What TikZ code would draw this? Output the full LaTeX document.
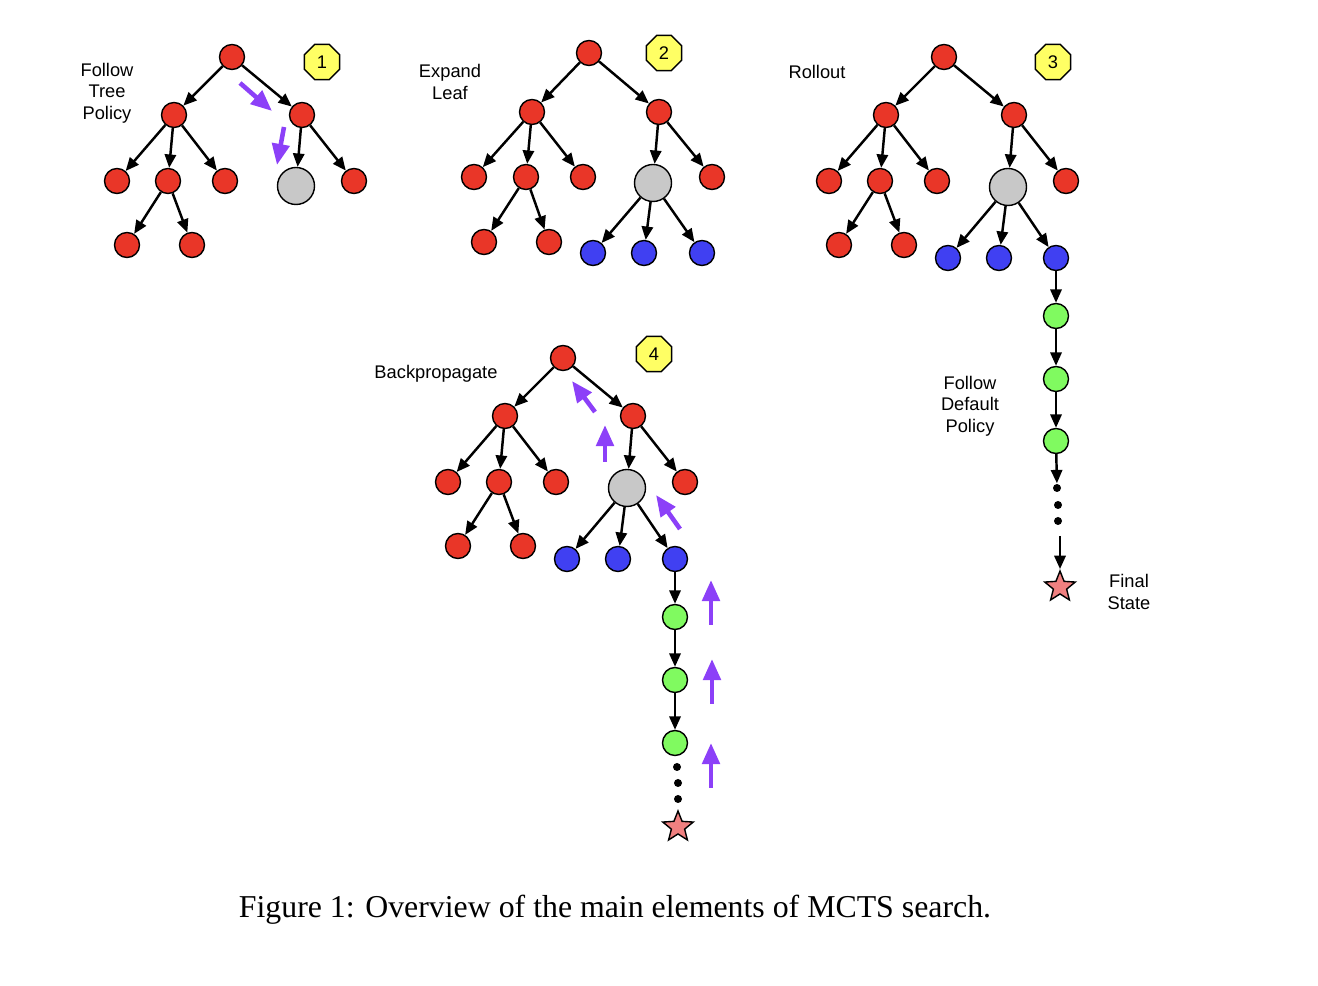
\documentclass[tikz,border=0pt]{standalone}
\usepackage{fontspec}
\setmainfont{Liberation Serif}
\newfontfamily\helv{Liberation Sans}
\usetikzlibrary{shapes.geometric,arrows.meta}
\definecolor{nodered}{RGB}{233,54,40}
\definecolor{nodegray}{RGB}{200,200,200}
\definecolor{nodeblue}{RGB}{64,64,242}
\definecolor{nodegreen}{RGB}{128,250,96}
\definecolor{numyellow}{RGB}{255,255,100}
\definecolor{starpink}{RGB}{240,128,128}
\definecolor{backpurple}{RGB}{140,64,248}
\tikzset{
    rednode/.style={circle, draw, fill=nodered, minimum size=0.25cm, inner sep=0pt, line width=0.4pt},
    graynode/.style={circle, draw, fill=nodegray, minimum size=0.37cm, inner sep=0pt, line width=0.4pt},
    bluenode/.style={circle, draw, fill=nodeblue, minimum size=0.25cm, inner sep=0pt, line width=0.4pt},
    greennode/.style={circle, draw, fill=nodegreen, minimum size=0.25cm, inner sep=0pt, line width=0.4pt},
    dotnode/.style={circle, fill=black, minimum size=0.08cm, inner sep=0pt},
    stepnum/.style={regular polygon, regular polygon sides=8, draw, fill=numyellow, minimum size=0.38cm, inner sep=0pt, line width=0.4pt, font=\helv\fontsize{5.2}{6}\selectfont},
    finalstar/.style={star, star points=5, star point ratio=2.3, draw, fill=starpink, minimum size=0.32cm, inner sep=0pt, line width=0.4pt},
    edge/.style={-{Triangle[length=3.8pt,width=3.2pt]}, line width=0.7pt},
    back/.style={-{Triangle[length=6pt,width=4.9pt]}, line width=1.3pt, color=backpurple},
    lbl/.style={font=\helv\fontsize{5.2}{6.1}\selectfont, align=center}
}
\begin{document}
\begin{tikzpicture}[x=0.01cm, y=-0.01cm]
    \useasboundingbox (0, 0) rectangle (1318, 986);

    \node[rednode] (a) at (232, 57) {};
        \node[rednode] (a1) at (174, 115) {};
        \node[rednode] (a2) at (302, 115) {};
            \node[rednode] (a11) at (117, 181) {};
            \node[rednode] (a12) at (168, 181) {};
            \node[rednode] (a13) at (225, 181) {};
                \node[rednode] (a121) at (127, 245) {};
                \node[rednode] (a122) at (192, 245) {};
            \node[graynode] (a21) at (296, 186) {};
            \node[rednode] (a22) at (354, 181) {};
    \draw[edge] (a) -- (a1);
    \draw[edge] (a) -- (a2);
    \draw[edge] (a1) -- (a11);
    \draw[edge] (a1) -- (a12);
    \draw[edge] (a1) -- (a13);
    \draw[edge] (a12) -- (a121);
    \draw[edge] (a12) -- (a122);
    \draw[edge] (a2) -- (a21);
    \draw[edge] (a2) -- (a22);
    \coordinate (ap1) at (240, 83);
    \coordinate (aq1) at (272, 111);
    \coordinate (ap2) at (284, 127);
    \coordinate (aq2) at (277, 165);
    \draw[back] (ap1) -- (aq1);
    \draw[back] (ap2) -- (aq2);
    \node[stepnum] (anum) at (322, 62) {1};
    \node[lbl] (alabel) at (107, 93) {Follow\\Tree\\Policy};

    \node[rednode] (b) at (589, 53) {};
        \node[rednode] (b1) at (532, 112) {};
        \node[rednode] (b2) at (659, 112) {};
            \node[rednode] (b11) at (474, 177) {};
            \node[rednode] (b12) at (526, 177) {};
            \node[rednode] (b13) at (583, 177) {};
                \node[rednode] (b121) at (484, 242) {};
                \node[rednode] (b122) at (549, 242) {};
            \node[graynode] (b21) at (653, 183) {};
            \node[rednode] (b22) at (712, 177) {};
                \node[bluenode] (b211) at (593, 253) {};
                \node[bluenode] (b212) at (644, 253) {};
                \node[bluenode] (b213) at (702, 253) {};
    \draw[edge] (b) -- (b1);
    \draw[edge] (b) -- (b2);
    \draw[edge] (b1) -- (b11);
    \draw[edge] (b1) -- (b12);
    \draw[edge] (b1) -- (b13);
    \draw[edge] (b12) -- (b121);
    \draw[edge] (b12) -- (b122);
    \draw[edge] (b2) -- (b21);
    \draw[edge] (b2) -- (b22);
    \draw[edge] (b21) -- (b211);
    \draw[edge] (b21) -- (b212);
    \draw[edge] (b21) -- (b213);
    \node[stepnum] (bnum) at (664, 53) {2};
    \node[lbl] (blabel) at (450, 82) {Expand\\Leaf};

    \node[rednode] (c) at (944, 57) {};
        \node[rednode] (c1) at (886, 115) {};
        \node[rednode] (c2) at (1014, 115) {};
            \node[rednode] (c11) at (829, 181) {};
            \node[rednode] (c12) at (880, 181) {};
            \node[rednode] (c13) at (937, 181) {};
                \node[rednode] (c121) at (839, 245) {};
                \node[rednode] (c122) at (904, 245) {};
            \node[graynode] (c21) at (1008, 187) {};
            \node[rednode] (c22) at (1066, 181) {};
                \node[bluenode] (c211) at (948, 258) {};
                \node[bluenode] (c212) at (999, 258) {};
                \node[bluenode] (c213) at (1056, 258) {};
                    \node[greennode] (c3) at (1056, 316) {};
                    \node[greennode] (c4) at (1056, 379) {};
                    \node[greennode] (c5) at (1056, 441) {};
                    \node[dotnode] (c6) at (1057, 488) {};
                    \node[dotnode] (c7) at (1058, 505) {};
                    \node[dotnode] (c8) at (1058, 521) {};
                    \coordinate (cs) at (1060, 536);
                    \node[finalstar] (cstar) at (1060, 587) {};
    \draw[edge] (c) -- (c1);
    \draw[edge] (c) -- (c2);
    \draw[edge] (c1) -- (c11);
    \draw[edge] (c1) -- (c12);
    \draw[edge] (c1) -- (c13);
    \draw[edge] (c12) -- (c121);
    \draw[edge] (c12) -- (c122);
    \draw[edge] (c2) -- (c21);
    \draw[edge] (c2) -- (c22);
    \draw[edge] (c21) -- (c211);
    \draw[edge] (c21) -- (c212);
    \draw[edge] (c21) -- (c213);
    \draw[edge] (c213) -- (c3);
    \draw[edge] (c3) -- (c4);
    \draw[edge] (c4) -- (c5);
    \draw[edge] (c5) -- (c6);
    \draw[edge] (cs) -- (cstar);
    \node[stepnum] (cnum) at (1053, 62) {3};
    \node[lbl] (clabel) at (817, 72) {Rollout};
    \node[lbl] (cpolicy) at (970, 406) {Follow\\Default\\Policy};
    \node[lbl] (cfinal) at (1129, 592) {Final\\State};

    \node[rednode] (d) at (563, 358) {};
        \node[rednode] (d1) at (505, 416) {};
        \node[rednode] (d2) at (633, 416) {};
            \node[rednode] (d11) at (448, 482) {};
            \node[rednode] (d12) at (499, 482) {};
            \node[rednode] (d13) at (556, 482) {};
                \node[rednode] (d121) at (458, 546) {};
                \node[rednode] (d122) at (523, 546) {};
            \node[graynode] (d21) at (627, 488) {};
            \node[rednode] (d22) at (685, 482) {};
                \node[bluenode] (d211) at (567, 559) {};
                \node[bluenode] (d212) at (618, 559) {};
                \node[bluenode] (d213) at (675, 559) {};
                    \node[greennode] (d3) at (675, 617) {};
                    \node[greennode] (d4) at (675, 680) {};
                    \node[greennode] (d5) at (675, 743) {};
                    \node[dotnode] (d6) at (677, 767) {};
                    \node[dotnode] (d7) at (678, 783) {};
                    \node[dotnode] (d8) at (678, 799) {};
                    \node[finalstar] (dstar) at (678, 827) {};
    \draw[edge] (d) -- (d1);
    \draw[edge] (d) -- (d2);
    \draw[edge] (d1) -- (d11);
    \draw[edge] (d1) -- (d12);
    \draw[edge] (d1) -- (d13);
    \draw[edge] (d12) -- (d121);
    \draw[edge] (d12) -- (d122);
    \draw[edge] (d2) -- (d21);
    \draw[edge] (d2) -- (d22);
    \draw[edge] (d21) -- (d211);
    \draw[edge] (d21) -- (d212);
    \draw[edge] (d21) -- (d213);
    \draw[edge] (d213) -- (d3);
    \draw[edge] (d3) -- (d4);
    \draw[edge] (d4) -- (d5);
    \coordinate (dp1) at (595, 412);
    \coordinate (dq1) at (572, 381);
    \coordinate (dp2) at (605, 462);
    \coordinate (dq2) at (605, 425);
    \coordinate (dp3) at (680, 529);
    \coordinate (dq3) at (656, 495);
    \coordinate (dp4) at (711, 625);
    \coordinate (dq4) at (711, 580);
    \coordinate (dp5) at (712, 704);
    \coordinate (dq5) at (712, 659);
    \coordinate (dp6) at (711, 788);
    \coordinate (dq6) at (711, 743);
    \draw[back] (dp1) -- (dq1);
    \draw[back] (dp2) -- (dq2);
    \draw[back] (dp3) -- (dq3);
    \draw[back] (dp4) -- (dq4);
    \draw[back] (dp5) -- (dq5);
    \draw[back] (dp6) -- (dq6);
    \node[stepnum] (dnum) at (654, 354) {4};
    \node[lbl] (dlabel) at (436, 374) {Backpropagate};

    \node[anchor=base, font=\fontsize{9.05}{11}\selectfont] (caption) at (615, 918) {Figure 1: Overview of the main elements of MCTS search.};
\end{tikzpicture}
\end{document}
